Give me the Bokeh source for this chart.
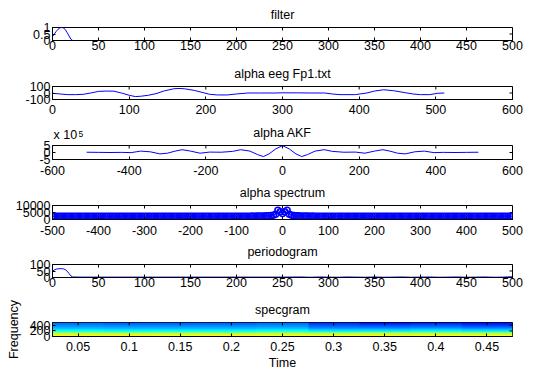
import numpy as np
from bokeh.plotting import figure
from bokeh.layouts import column
from bokeh.models import FixedTicker, Label, LinearColorMapper, Range1d
from bokeh.embed import file_html
from bokeh.resources import INLINE

FONT = "Liberation Sans"
FS = "12.5px"
BLUE = "#0000ff"
FRAME_W = 460

# ---------------- data ----------------
# 1) filter
filter_x = [0, 2, 4, 6, 8, 10, 12, 14, 16, 18, 20, 22, 500]
filter_y = [0.3, 0.5, 0.7, 0.86, 0.97, 1.0, 0.97, 0.82, 0.6, 0.35, 0.1, 0.0, 0.0]
filter_xticks = [0, 50, 100, 150, 200, 250, 300, 350, 400, 450, 500]
filter_yticks = [0, 0.5, 1]

# 2) alpha eeg Fp1.txt
eeg_x = [0, 10, 20, 30, 40, 50, 60, 70, 80, 90, 100, 108, 115, 125, 135, 145, 158, 165, 172,
         185, 195, 205, 215, 228, 240, 255, 270, 290, 300, 320, 340, 355, 365, 375, 395, 410,
         420, 432, 445, 460, 470, 480, 492, 502, 511]
eeg_y = [-5, -15, -25, -25, -20, 0, 25, 30, 28, 0, -35, -55, -50, -35, -10, 30, 65, 70, 65,
         40, 10, -20, -30, -30, -15, 0, 0, 0, 3, 2, 0, 0, -15, -25, -25, 0,
         30, 50, 35, 5, -15, -25, -25, -5, 0]
eeg_xticks = [0, 100, 200, 300, 400, 500, 600]
eeg_yticks = [-100, 0, 100]

# 3) alpha AKF (x 10^5)
akf_lag = [-511, -480, -450, -420, -395, -370, -345, -320, -300, -280, -262, -240, -215, -190,
           -160, -130, -109, -85, -65, -50, -35, -18, 0, 18, 35, 50, 65, 85, 109, 130, 160,
           190, 215, 240, 262, 280, 300, 320, 345, 370, 395, 420, 450, 480, 511]
akf_val = [0.2, 0.1, 0.0, 0.1, -0.1, 1.0, 0.5, -1.0, -0.5, 1.0, 2.0, 1.0, -0.5, 0.3,
           0.2, 0.8, 2.0, 1.0, -1.5, -2.9, -1.0, 2.5, 4.9, 2.5, -1.0, -2.9, -1.5, 1.0, 2.0, 0.8, 0.2,
           0.3, -0.5, 1.0, 2.0, 1.0, -0.5, -1.0, 0.5, 1.0, -0.1, 0.1, 0.0, 0.1, 0.2]
akf_xticks = [-600, -400, -200, 0, 200, 400, 600]
akf_yticks = [-5, 0, 5]

# 4) alpha spectrum (frequency bins every 5 Hz)
spec_freq = list(range(-500, 501, 5))
spec_left = [
    2400, 2300, 2250, 2300, 2350, 2300, 2280, 2320, 2300, 2250, 2300, 2350,
    2300, 2300, 2280, 2320, 2300, 2350, 2300, 2250, 2300, 2320, 2300, 2280,
    2300, 2350, 2300, 2300, 2250, 2300, 2320, 2300, 2280, 2300, 2350, 2300,
    2300, 2320, 2280, 2300, 2350, 2300, 2250, 2300, 2320, 2300, 2280, 2300,
    2350, 2300, 2300, 2320, 2280, 2300, 2250, 2300, 2350, 2300, 2320, 2280,
    2300, 2300, 2350, 2300, 2280, 2320, 2300, 2250, 2300, 2350, 2300, 2300,
    2320, 2280, 2300, 2350, 2300, 2250, 2300, 2320, 2300, 2350, 2300, 2400,
    2350, 2400, 2350, 2450, 2400, 2500, 2450, 2500, 2550, 2600, 2700, 2800,
]
spec_center = [3000, 3800, 6600, 5600, 4200, 5600, 6600, 3800, 3000]
spec_right = [
    2800, 2700, 2600, 2550, 2500, 2450, 2500, 2400, 2450, 2350, 2400, 2350,
    2400, 2300, 2350, 2300, 2320, 2300, 2250, 2300, 2350, 2300, 2280, 2320,
    2300, 2300, 2350, 2300, 2250, 2300, 2320, 2280, 2300, 2350, 2300, 2300,
    2280, 2320, 2300, 2350, 2300, 2250, 2300, 2280, 2320, 2300, 2300, 2350,
    2300, 2280, 2300, 2320, 2300, 2250, 2300, 2350, 2300, 2280, 2320, 2300,
    2300, 2350, 2300, 2280, 2300, 2320, 2300, 2250, 2300, 2300, 2350, 2300,
    2280, 2300, 2320, 2300, 2250, 2300, 2350, 2300, 2280, 2320, 2300, 2300,
    2350, 2250, 2300, 2320, 2300, 2280, 2300, 2350, 2300, 2250, 2300, 2400,
]
spec_power = spec_left + spec_center + spec_right
spec_xticks = [-500, -400, -300, -200, -100, 0, 100, 200, 300, 400, 500]
spec_yticks = [0, 5000, 10000]

# 5) periodogram
pg_x = [0, 2, 4, 6, 8, 10, 12, 14, 16, 18, 20, 22, 30, 60, 100, 150, 200, 250, 270, 280, 290,
        300, 310, 320, 330, 340, 350, 360, 370, 380, 390, 400, 410, 420, 430, 440, 450, 460,
        470, 480, 490, 500]
pg_y = [48, 58, 64, 67, 68, 68, 66, 60, 48, 30, 12, 4, 3, 3, 3, 3, 3, 3, 4, 2, 4,
        3, 2, 4, 3, 2, 4, 2, 3, 4, 2, 3, 4, 2, 3, 4, 2, 3, 4, 2, 3, 6]
pg_xticks = [0, 50, 100, 150, 200, 250, 300, 350, 400, 450, 500]
pg_yticks = [0, 50, 100]

# 6) specgram (rows: frequency bins low->high, cols: time segments)
sg_t0, sg_t1 = 0.025, 0.475
sg_f0, sg_f1 = 0, 500
sg_rows = [
    [0.63, 0.63, 0.62, 0.63, 0.62, 0.62, 0.63, 0.62, 0.62],
    [0.55, 0.55, 0.55, 0.54, 0.55, 0.54, 0.55, 0.55, 0.54],
    [0.46, 0.45, 0.45, 0.45, 0.46, 0.44, 0.45, 0.45, 0.44],
    [0.38, 0.37, 0.37, 0.37, 0.38, 0.35, 0.35, 0.36, 0.35],
    [0.32, 0.31, 0.31, 0.31, 0.32, 0.28, 0.28, 0.29, 0.27],
    [0.28, 0.27, 0.27, 0.27, 0.28, 0.23, 0.22, 0.23, 0.21],
    [0.25, 0.24, 0.24, 0.24, 0.25, 0.20, 0.19, 0.20, 0.17],
    [0.24, 0.23, 0.23, 0.23, 0.24, 0.18, 0.16, 0.17, 0.15],
]
sg_xticks = [0.05, 0.1, 0.15, 0.2, 0.25, 0.3, 0.35, 0.4, 0.45]
sg_yticks = [0, 200, 400]


# ---------------- styling helpers ----------------
def jet_palette(n=256):
    v = np.linspace(0, 1, n)
    r = np.clip(1.5 - np.abs(4 * v - 3), 0, 1)
    g = np.clip(1.5 - np.abs(4 * v - 2), 0, 1)
    b = np.clip(1.5 - np.abs(4 * v - 1), 0, 1)
    return ["#%02x%02x%02x" % (int(255 * a), int(255 * c), int(255 * d)) for a, c, d in zip(r, g, b)]


def style_axis(ax, ticks, standoff):
    ax.ticker = FixedTicker(ticks=ticks)
    ax.major_label_overrides = {t: "%g" % t for t in ticks}
    ax.major_tick_in = 3
    ax.major_tick_out = 0
    ax.minor_tick_in = 0
    ax.minor_tick_out = 0
    ax.axis_line_color = "black"
    ax.major_tick_line_color = "black"
    ax.major_label_text_font = FONT
    ax.major_label_text_font_size = FS
    ax.major_label_text_color = "black"
    ax.major_label_standoff = standoff
    ax.axis_label_text_font = FONT
    ax.axis_label_text_font_size = FS
    ax.axis_label_text_font_style = "normal"
    ax.axis_label_text_color = "black"


def make_fig(title, xr, yr, xticks, yticks, fh, top, bottom, x_standoff):
    p = figure(frame_width=FRAME_W, frame_height=fh,
               x_range=Range1d(*xr), y_range=Range1d(*yr),
               output_backend="svg", toolbar_location=None, title=title,
               min_border_left=52, min_border_right=21,
               min_border_top=top, min_border_bottom=bottom)
    p.title.text_font = FONT
    p.title.text_font_size = FS
    p.title.text_font_style = "normal"
    p.title.text_color = "black"
    p.title.align = "center"
    p.title.vertical_align = "top"
    p.title.standoff = 7
    p.xgrid.visible = False
    p.ygrid.visible = False
    p.outline_line_color = "black"
    p.outline_line_alpha = 1.0
    style_axis(p.xaxis[0], xticks, x_standoff)
    style_axis(p.yaxis[0], yticks, 2)
    # inward ticks on the top and right edges of the box
    dy = (yr[1] - yr[0]) * 3.0 / fh
    dx = (xr[1] - xr[0]) * 3.0 / FRAME_W
    p.segment(x0=xticks, y0=[yr[1]] * len(xticks), x1=xticks, y1=[yr[1] - dy] * len(xticks),
              line_color="black", line_width=1)
    p.segment(x0=[xr[1]] * len(yticks), y0=yticks, x1=[xr[1] - dx] * len(yticks), y1=yticks,
              line_color="black", line_width=1)
    return p


# 1 filter
p1 = make_fig("filter", (0, 500), (0, 1), filter_xticks, filter_yticks, 13, 27, 23, 0)
p1.line(filter_x, filter_y, line_color=BLUE, line_width=1)

# 2 eeg
p2 = make_fig("alpha eeg Fp1.txt", (0, 600), (-100, 100), eeg_xticks, eeg_yticks, 13, 23, 23, 5)
p2.line(eeg_x, eeg_y, line_color=BLUE, line_width=1)

# 3 AKF
p3 = make_fig("alpha AKF", (-600, 600), (-5, 5), akf_xticks, akf_yticks, 14, 23, 23, 6)
p3.line(akf_lag, akf_val, line_color=BLUE, line_width=1)
p3.add_layout(Label(x=-600, y=5, text="x 10", text_font=FONT, text_font_size=FS,
                    text_baseline="bottom", text_align="left", x_offset=1, y_offset=4,
                    text_color="black"), "left")
p3.add_layout(Label(x=-600, y=5, text="5", text_font=FONT, text_font_size="8.5px",
                    text_baseline="bottom", text_align="left", x_offset=26, y_offset=9,
                    text_color="black"), "left")

# 4 spectrum
p4 = make_fig("alpha spectrum", (-500, 500), (0, 10000), spec_xticks, spec_yticks, 14, 23, 22, 6)
p4.line(spec_freq, spec_power, line_color=BLUE, line_width=1)
p4.scatter(spec_freq, spec_power, marker="circle", size=6, fill_color=None,
           line_color=BLUE, line_width=1.5)

# 5 periodogram
p5 = make_fig("periodogram", (0, 500), (0, 100), pg_xticks, pg_yticks, 13, 23, 22, 0)
p5.line(pg_x, pg_y, line_color=BLUE, line_width=1)

# 6 specgram
p6 = make_fig("specgram", (sg_t0, sg_t1), (sg_f0, sg_f1), sg_xticks, sg_yticks, 14, 23, 35, 5)
mapper = LinearColorMapper(palette=jet_palette(), low=0, high=1)
p6.image(image=[np.array(sg_rows)], x=sg_t0, y=sg_f0, dw=sg_t1 - sg_t0, dh=sg_f1 - sg_f0,
         color_mapper=mapper, level="image")
xax6 = p6.below[0]
yax6 = p6.left[0]
xax6.axis_label = "Time"
xax6.axis_label_standoff = 2
yax6.axis_label = "Frequency"
yax6.axis_label_standoff = 6

layout = column(p1, p2, p3, p4, p5, p6, spacing=0)

open("out.html", "w").write(file_html(layout, INLINE))
